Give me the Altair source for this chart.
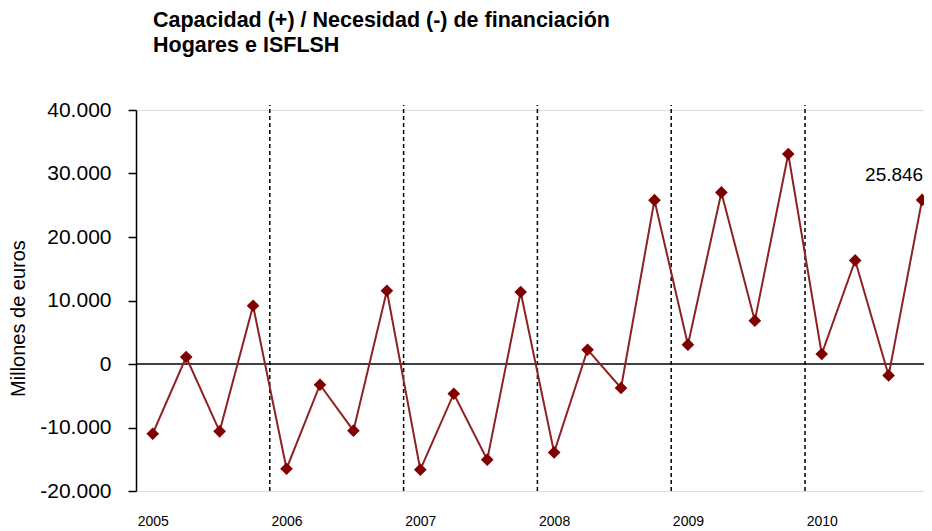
import altair as alt
import pandas as pd

# ---- data ----
years = [2005, 2006, 2007, 2008, 2009, 2010]
quarters = ["T1", "T2", "T3", "T4"]
values = [-10980, 1100, -10610, 9180,
          -16490, -3260, -10500, 11540,
          -16640, -4680, -15070, 11340,
          -13920, 2250, -3780, 25800,
          3040, 27020, 6820, 33070,
          1570, 16310, -1800, 25846]
y_ticks = [-20000, -10000, 0, 10000, 20000, 30000, 40000]
y_tick_labels = ["-20.000", "-10.000", "0", "10.000", "20.000", "30.000", "40.000"]
year_bounds = [4, 8, 12, 16, 20]
last_label = "25.846"
title_lines = ["Capacidad (+) / Necesidad (-) de financiación", "Hogares e ISFLSH"]
y_title = "Millones de euros"

rows = []
for yi, yr in enumerate(years):
    for qi, q in enumerate(quarters):
        idx = yi * 4 + qi
        rows.append({"periodo": f"{yr}-{q}", "pos": idx + 0.5, "valor": values[idx]})
df = pd.DataFrame(rows)
df_last = pd.DataFrame({"pos": [df["pos"].iloc[-1]], "valor": [values[-1]], "txt": [last_label]})
df_bounds = pd.DataFrame({"b": year_bounds})
df_zero = pd.DataFrame({"z": [0]})

W = 788
H = 381
STEP = 33.45
x_max = W / STEP
FONT = "Liberation Sans"

xscale = alt.Scale(domain=[0, x_max], nice=False, zero=False)
yscale = alt.Scale(domain=[y_ticks[0], y_ticks[-1]], nice=False)

year_arr = "[" + ",".join(f"'{y}'" for y in years) + "]"
ylab_arr = "[" + ",".join(f"'{s}'" for s in y_tick_labels) + "]"

x_axis = alt.Axis(
    values=[i * 4 + 0.5 for i in range(len(years))],
    labelExpr=f"{year_arr}[floor(datum.value / 4)]",
    domain=False, ticks=False, grid=False, title=None,
    labelFont=FONT, labelFontSize=14, labelColor="black",
    labelPadding=23, labelAngle=0,
)
y_axis = alt.Axis(
    values=y_ticks,
    labelExpr=f"{ylab_arr}[round((datum.value - ({y_ticks[0]})) / 10000)]",
    grid=False, title=y_title,
    titleFont=FONT, titleFontSize=20, titleFontWeight="normal", titleColor="black",
    titleX=-118, titleY=208, titleAngle=270, titleBaseline="middle", titleAlign="center",
    labelFont=FONT, labelFontSize=21, labelColor="black", labelPadding=17,
    domainColor="black", domainWidth=1.5, tickColor="black", tickSize=8, tickWidth=1.5,
)

zero = alt.Chart(df_zero).mark_rule(color="black", strokeWidth=1.5).encode(
    y=alt.Y("z:Q", scale=yscale, axis=y_axis)
)
bounds = alt.Chart(df_bounds).mark_rule(color="black", strokeWidth=1.5, strokeDash=[4, 3]).encode(
    x=alt.X("b:Q", scale=xscale, axis=x_axis),
    y=alt.datum(y_ticks[0]),
    y2=alt.datum(40800),
)
line = alt.Chart(df).mark_line(color="#8E2222", strokeWidth=2).encode(
    x=alt.X("pos:Q", scale=xscale, axis=x_axis),
    y=alt.Y("valor:Q", scale=yscale, axis=y_axis),
)
points = alt.Chart(df).mark_point(shape="diamond", filled=True, size=160, color="#800000", opacity=1).encode(
    x=alt.X("pos:Q", scale=xscale, axis=x_axis),
    y=alt.Y("valor:Q", scale=yscale, axis=y_axis),
)
label = alt.Chart(df_last).mark_text(
    align="left", baseline="alphabetic", dx=-57, dy=-19, fontSize=19, font=FONT, color="black"
).encode(
    x=alt.X("pos:Q", scale=xscale, axis=x_axis),
    y=alt.Y("valor:Q", scale=yscale, axis=y_axis),
    text="txt:N",
)

chart = alt.layer(zero, bounds, line, points, label).properties(
    width=W,
    height=H,
    autosize=alt.AutoSizeParams(type="none"),
    padding={"left": 128, "top": 102, "right": 0, "bottom": 40},
    title=alt.TitleParams(
        text=title_lines, anchor="start", frame="group", font=FONT, fontSize=21.5,
        fontWeight="bold", color="black", dx=17, offset=43, lineHeight=25,
    ),
).configure_view(stroke=None).configure(background="white")

chart.save("out.html", embed_options={"renderer": "svg", "actions": False})
